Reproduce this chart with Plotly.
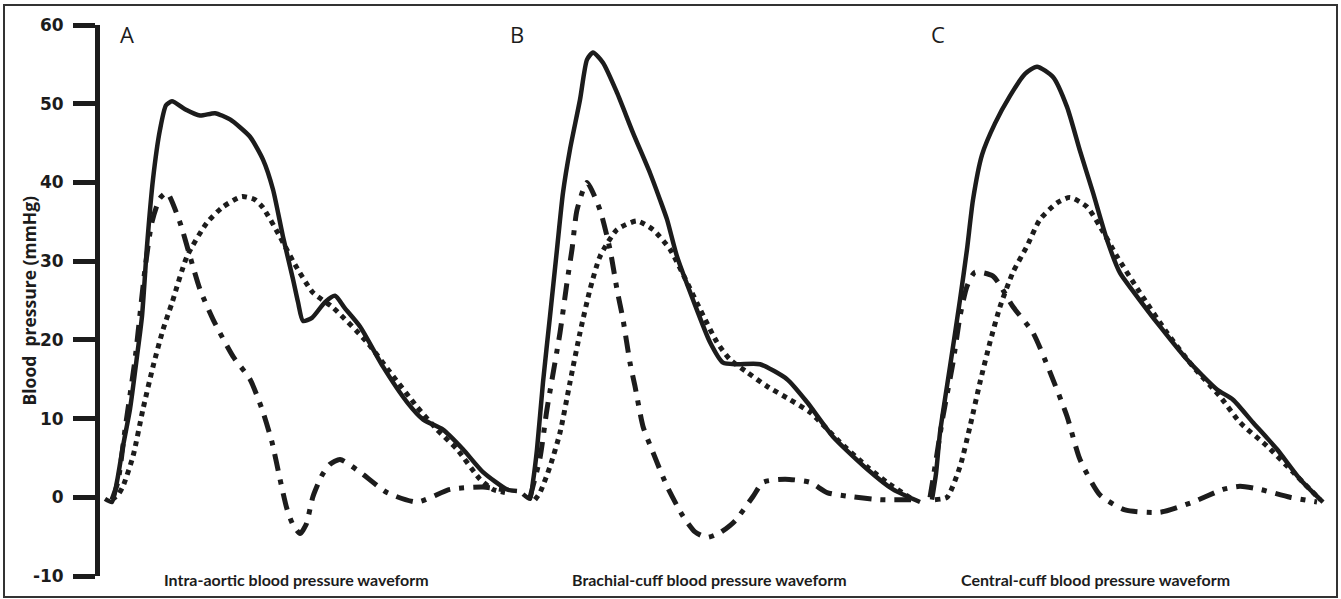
import plotly.graph_objects as go

# ---- data (time in arbitrary units, pressure in mmHg) ----
# Panel A: intra-aortic
a_solid_t = [5, 12, 17, 23, 30, 37, 42, 47, 53, 60, 66, 72, 85, 100, 115, 130, 150, 163, 173, 183, 193, 198, 203, 212, 225, 235, 245, 260, 283, 307, 323, 343, 363, 383, 407, 417]
a_solid_p = [-0.2, -0.6, 2, 6.5, 11.2, 17.9, 23, 31.9, 40.4, 46.7, 49.8, 50.3, 49.3, 48.5, 48.8, 48, 45.8, 42.9, 39.1, 33.1, 27.7, 24.8, 22.4, 22.8, 24.8, 25.6, 24, 21.7, 16.6, 12.1, 9.9, 8.6, 6.1, 3.2, 1.0, 0.8]
a_dot_t = [12, 18, 23, 33, 43, 53, 63, 72, 87, 107, 123, 142, 155, 163, 180, 193, 213, 233, 267, 290, 317, 337, 357, 380, 393, 405]
a_dot_p = [-0.3, 0.3, 1.4, 5.2, 11.2, 16.6, 21.3, 24.7, 30.6, 34.9, 36.9, 38.2, 37.8, 36.8, 33.1, 30.0, 26.0, 24.1, 19.7, 15.9, 11.5, 8.6, 6.1, 2.3, 1.0, 0.6]
a_dd_t = [12, 18, 25, 35, 45, 52, 60, 67, 80, 90, 100, 113, 133, 150, 162, 172, 180, 187, 193, 200, 206, 213, 222, 230, 240, 260, 287, 317, 350, 383, 410]
a_dd_p = [-0.3, 2, 8.6, 17.5, 29, 35, 38, 38.7, 34.9, 30.6, 26.4, 22.6, 17.9, 15, 11.2, 7.0, 2.3, -1.5, -3.5, -4.6, -3.5, 0.1, 2.8, 4.2, 4.8, 3.2, 0.6, -0.6, 1.0, 1.3, 0.8]

# Panel B: brachial-cuff
b_solid_t = [423, 430, 433, 437, 443, 450, 457, 463, 470, 480, 487, 493, 503, 517, 533, 550, 560, 567, 577, 593, 610, 623, 637, 660, 687, 707, 733, 767, 793, 820]
b_solid_p = [0.4, -0.2, 2, 6.1, 14.6, 23, 31.5, 38.7, 44.2, 50.5, 55.6, 56.5, 55.2, 51.4, 46.3, 41.2, 37.8, 35.3, 30.6, 25.1, 19.7, 17.1, 16.9, 16.9, 15.0, 12.1, 7.7, 3.6, 1.0, -0.6]
b_dot_t = [435, 440, 450, 460, 470, 480, 490, 500, 517, 537, 553, 570, 587, 600, 617, 630, 647, 667, 690, 710, 740, 767, 787, 813]
b_dot_p = [-0.3, 0.6, 3.9, 8.2, 14.6, 20.9, 26.4, 30.6, 34, 35.1, 34, 31.5, 27.3, 23.9, 19.7, 17.5, 15.9, 14.1, 12.4, 10.8, 7.0, 3.9, 1.9, -0.3]
b_dd_t = [430, 440, 447, 460, 467, 472, 477, 487, 500, 510, 517, 523, 530, 535, 543, 553, 567, 583, 595, 607, 620, 635, 653, 663, 685, 710, 727, 750, 780, 820]
b_dd_p = [0, 5, 11.2, 20.9, 27.3, 31.5, 36.5, 40.0, 36.5, 31.5, 26.4, 22.6, 17.1, 14.1, 9.0, 5.7, 1.4, -2.4, -4.4, -5.1, -4.5, -3.0, 0.1, 1.9, 2.3, 1.9, 0.6, 0.1, -0.3, -0.3]

# Panel C: central-cuff
c_solid_t = [832, 836, 840, 850, 860, 867, 873, 882, 895, 910, 925, 937, 953, 967, 980, 993, 1007, 1020, 1033, 1060, 1087, 1117, 1133, 1153, 1177, 1200, 1223]
c_solid_p = [-0.3, 3, 8.2, 16.6, 25.1, 31.5, 37.8, 43.5, 47.5, 51.0, 53.8, 54.7, 53.4, 49.6, 44, 38.7, 32.7, 28.5, 26.2, 21.7, 17.5, 13.7, 12.4, 9.5, 6.1, 2.3, -0.6]
c_dot_t = [835, 847, 860, 870, 880, 890, 900, 913, 927, 940, 957, 970, 987, 1000, 1017, 1040, 1067, 1093, 1120, 1140, 1167, 1193, 1220]
c_dot_p = [-0.3, 0, 3.9, 9.0, 14.6, 19.7, 24.2, 28.6, 31.9, 35.3, 37.4, 38.1, 36.9, 34.4, 30.6, 26.0, 20.9, 16.6, 12.8, 9.5, 6.5, 3.2, -0.3]
c_dd_t = [830, 833, 843, 853, 860, 867, 875, 893, 913, 933, 950, 967, 980, 1000, 1025, 1060, 1093, 1123, 1140, 1160, 1190, 1217]
c_dd_p = [0, 2.3, 10.3, 17.1, 23, 26.8, 28.6, 28.1, 24.2, 20.9, 15.9, 10.3, 4.8, 0.3, -1.6, -1.9, -0.6, 1.0, 1.4, 1.0, 0, -0.6]

y_ticks = [-10, 0, 10, 20, 30, 40, 50, 60]
panel_letters = ["A", "B", "C"]
panel_letter_t = [27, 417, 838]
panel_titles = ["Intra-aortic blood pressure waveform",
                "Brachial-cuff blood pressure waveform",
                "Central-cuff blood pressure waveform"]
panel_title_t = [196, 609, 995]

INK = "#1c1c1c"
solid = dict(color=INK, width=4.5, shape="spline", smoothing=0.6)
dotted = dict(color=INK, width=5, dash="5px,5px", shape="spline", smoothing=0.6)
dashdot = dict(color=INK, width=5, dash="17px,9px,5px,9px", shape="spline", smoothing=0.6)

fig = go.Figure()
for t, p, ln in [
    (a_solid_t, a_solid_p, solid), (a_dot_t, a_dot_p, dotted), (a_dd_t, a_dd_p, dashdot),
    (b_solid_t, b_solid_p, solid), (b_dot_t, b_dot_p, dotted), (b_dd_t, b_dd_p, dashdot),
    (c_solid_t, c_solid_p, solid), (c_dot_t, c_dot_p, dotted), (c_dd_t, c_dd_p, dashdot),
]:
    fig.add_trace(go.Scatter(x=t, y=p, mode="lines", line=ln, showlegend=False,
                             hoverinfo="skip", cliponaxis=False))

annotations = []
for lab, t in zip(panel_letters, panel_letter_t):
    annotations.append(dict(x=t, y=58.8, xref="x", yref="y", text=lab, showarrow=False,
                            font=dict(family="Open Sans", size=22, color=INK),
                            xanchor="center", yanchor="middle"))
for lab, t in zip(panel_titles, panel_title_t):
    annotations.append(dict(x=t, y=-3 / 551, xref="x", yref="paper", text="<b>" + lab + "</b>",
                            showarrow=False, font=dict(family="Lato", size=16, color=INK),
                            xanchor="center", yanchor="middle"))
annotations.append(dict(x=-72 / 1238, y=0.5, xref="paper", yref="paper",
                        text="<b>Blood  pressure (mmHg)</b>", textangle=-90, showarrow=False,
                        font=dict(family="Open Sans", size=17.5, color=INK),
                        xanchor="center", yanchor="middle"))

fig.update_layout(
    width=1341, height=599,
    margin=dict(l=100, r=3, t=25, b=23),
    paper_bgcolor="white", plot_bgcolor="white",
    xaxis=dict(range=[0, 1238], visible=False, fixedrange=True),
    yaxis=dict(range=[-10, 60], tickvals=y_ticks, ticktext=["<b>%d</b>" % v for v in y_ticks],
               showline=True, linewidth=5, linecolor=INK, ticks="outside", ticklen=22,
               tickwidth=5, tickcolor=INK, showgrid=False, zeroline=False,
               tickfont=dict(family="DejaVu Sans", size=17, color=INK),
               ticklabelstandoff=6, fixedrange=True),
    annotations=annotations,
    shapes=[dict(type="rect", xref="paper", yref="paper",
                 x0=-96 / 1238, x1=1237 / 1238, y0=-21 / 551, y1=571 / 551,
                 line=dict(color="#333333", width=2), fillcolor="rgba(0,0,0,0)")],
)

fig.write_html("out.html")
